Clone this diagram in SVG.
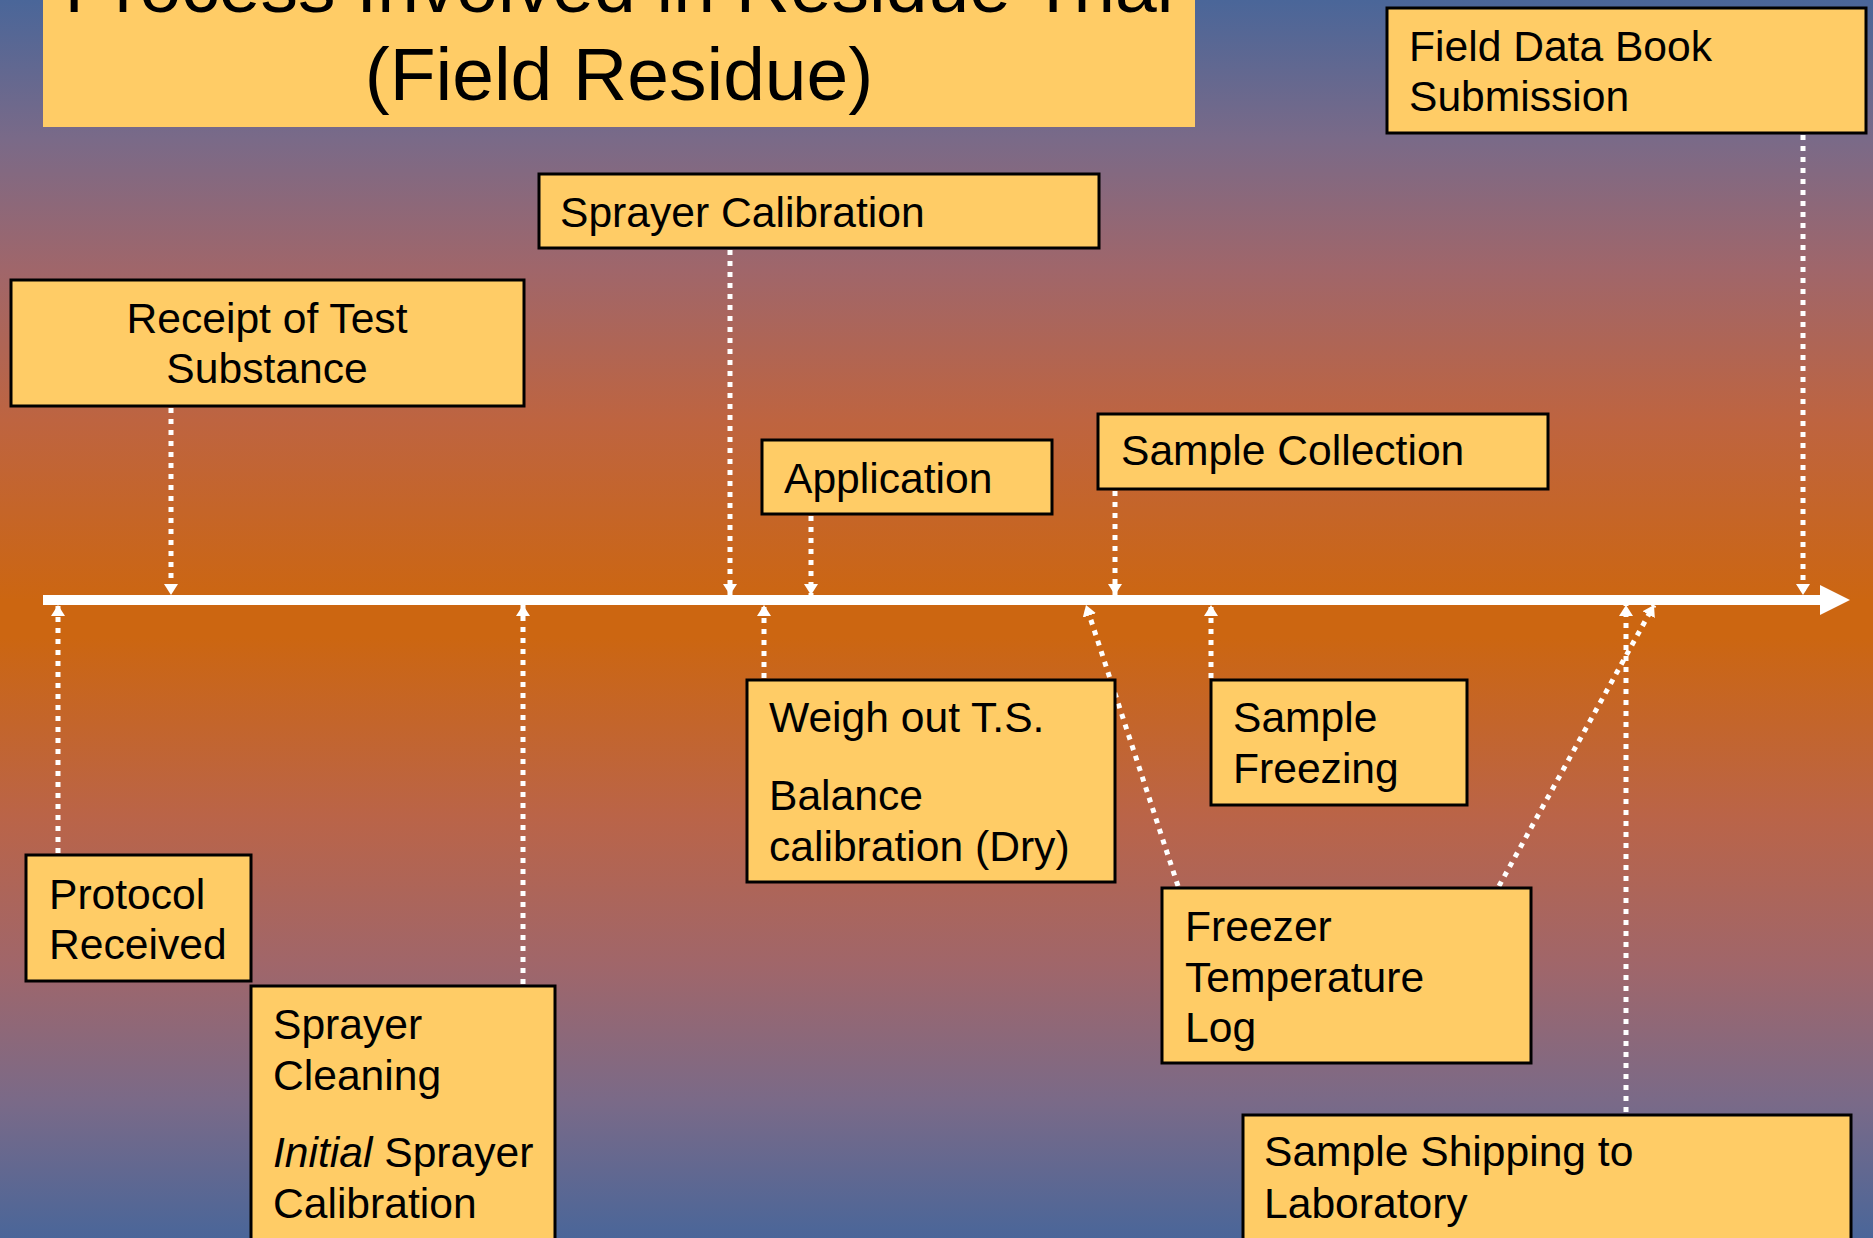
<svg xmlns="http://www.w3.org/2000/svg" width="1873" height="1238" viewBox="0 0 1873 1238">
<defs>
<linearGradient id="bg" x1="0" y1="0" x2="0" y2="1">
<stop offset="0" stop-color="#4A6699"/>
<stop offset="0.113" stop-color="#7A6A88"/>
<stop offset="0.218" stop-color="#A0666A"/>
<stop offset="0.34" stop-color="#BE6440"/>
<stop offset="0.485" stop-color="#CC6611"/>
<stop offset="0.515" stop-color="#CC6611"/>
<stop offset="0.66" stop-color="#BA6448"/>
<stop offset="0.78" stop-color="#A0666A"/>
<stop offset="0.89" stop-color="#7A6A88"/>
<stop offset="1" stop-color="#4A6699"/>
</linearGradient>
<marker id="ah" viewBox="0 0 11 14" refX="11" refY="7" markerWidth="11" markerHeight="14" markerUnits="userSpaceOnUse" orient="auto">
<path d="M0,0 L11,7 L0,14 z" fill="#FFFFFF"/>
</marker>
<style>
.box{fill:#FFCC66;stroke:#000000;stroke-width:3}
.t{font-family:"Liberation Sans",Arial,sans-serif;font-size:42.6px;fill:#000000}
.title{font-family:"Liberation Sans",Arial,sans-serif;font-size:75px;fill:#000000;text-anchor:middle}
.c{fill:none;stroke:#FFFFFF;stroke-width:5;stroke-dasharray:5 6;marker-end:url(#ah)}
</style>
</defs>
<rect x="0" y="0" width="1873" height="1238" fill="url(#bg)"/>

<g id="title">
<rect x="43" y="-20" width="1152" height="147" fill="#FFCC66"/>
<text class="title" x="619" y="12">Process Involved in Residue Trial</text>
<text class="title" x="619" y="100">(Field Residue)</text>
</g>

<g id="timeline">
<line x1="43" y1="600" x2="1822" y2="600" stroke="#FFFFFF" stroke-width="10"/>
<polygon points="1820,585 1850,600 1820,615" fill="#FFFFFF"/>
</g>

<g id="connectors">
<line class="c" x1="171" y1="408" x2="171" y2="595"/>
<line class="c" x1="730" y1="250" x2="730" y2="595"/>
<line class="c" x1="811" y1="516" x2="811" y2="595"/>
<line class="c" x1="1115" y1="491" x2="1115" y2="595"/>
<line class="c" x1="1803" y1="135" x2="1803" y2="595"/>
<line class="c" x1="58" y1="853" x2="58" y2="605"/>
<line class="c" x1="523" y1="984" x2="523" y2="605"/>
<line class="c" x1="764" y1="678" x2="764" y2="605"/>
<line class="c" x1="1211" y1="678" x2="1211" y2="605"/>
<line class="c" x1="1178" y1="886" x2="1086" y2="605"/>
<line class="c" x1="1499" y1="886" x2="1654" y2="605"/>
<line class="c" x1="1626" y1="1112" x2="1626" y2="605"/>
</g>

<g id="field-data-book">
<rect class="box" x="1387" y="8" width="479" height="125"/>
<text class="t" x="1409" y="61">Field Data Book</text>
<text class="t" x="1409" y="111">Submission</text>
</g>

<g id="sprayer-calibration">
<rect class="box" x="539" y="174" width="560" height="74"/>
<text class="t" x="560" y="227">Sprayer Calibration</text>
</g>

<g id="receipt">
<rect class="box" x="11" y="280" width="513" height="126"/>
<text class="t" x="267" y="333" text-anchor="middle">Receipt of Test</text>
<text class="t" x="267" y="383" text-anchor="middle">Substance</text>
</g>

<g id="application">
<rect class="box" x="762" y="440" width="290" height="74"/>
<text class="t" x="784" y="493">Application</text>
</g>

<g id="sample-collection">
<rect class="box" x="1098" y="414" width="450" height="75"/>
<text class="t" x="1121" y="465">Sample Collection</text>
</g>

<g id="weigh-out">
<rect class="box" x="747" y="680" width="368" height="202"/>
<text class="t" x="769" y="732">Weigh out T.S.</text>
<text class="t" x="769" y="810">Balance</text>
<text class="t" x="769" y="861">calibration (Dry)</text>
</g>

<g id="sample-freezing">
<rect class="box" x="1211" y="680" width="256" height="125"/>
<text class="t" x="1233" y="732">Sample</text>
<text class="t" x="1233" y="783">Freezing</text>
</g>

<g id="freezer-log">
<rect class="box" x="1162" y="888" width="369" height="175"/>
<text class="t" x="1185" y="941">Freezer</text>
<text class="t" x="1185" y="992">Temperature</text>
<text class="t" x="1185" y="1042">Log</text>
</g>

<g id="protocol-received">
<rect class="box" x="26" y="855" width="225" height="126"/>
<text class="t" x="49" y="909">Protocol</text>
<text class="t" x="49" y="959">Received</text>
</g>

<g id="sprayer-cleaning">
<rect class="box" x="251" y="986" width="304" height="270"/>
<text class="t" x="273" y="1039">Sprayer</text>
<text class="t" x="273" y="1090">Cleaning</text>
<text class="t" x="273" y="1167"><tspan font-style="italic">Initial</tspan> Sprayer</text>
<text class="t" x="273" y="1218">Calibration</text>
</g>

<g id="sample-shipping">
<rect class="box" x="1243" y="1115" width="608" height="140"/>
<text class="t" x="1264" y="1166">Sample Shipping to</text>
<text class="t" x="1264" y="1218">Laboratory</text>
</g>
</svg>
